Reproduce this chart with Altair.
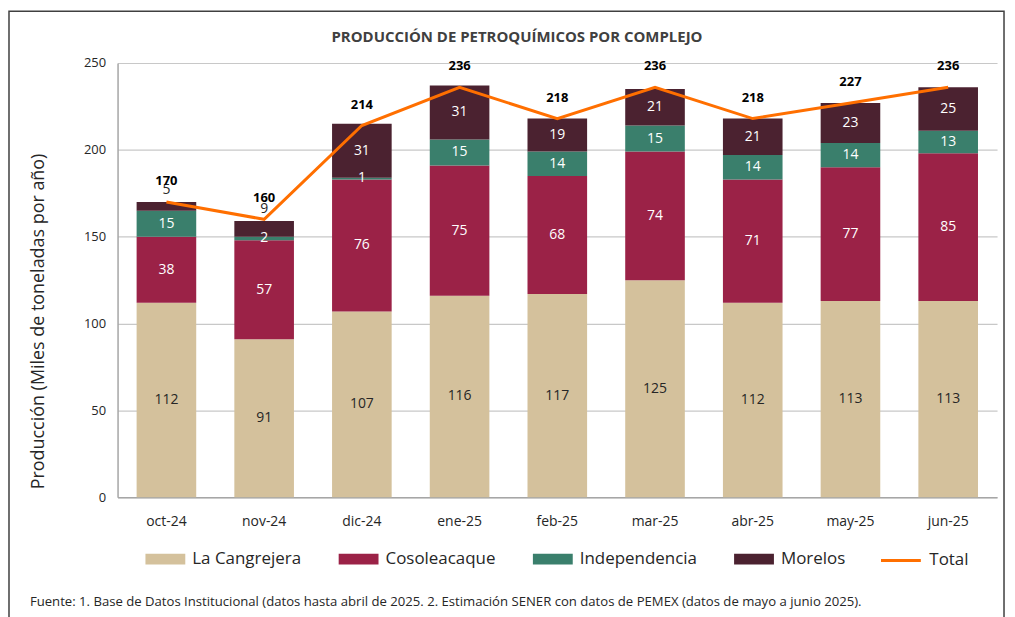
import altair as alt
import pandas as pd

meses = ["oct-24", "nov-24", "dic-24", "ene-25", "feb-25", "mar-25", "abr-25", "may-25", "jun-25"]
la_cangrejera = [112, 91, 107, 116, 117, 125, 112, 113, 113]
cosoleacaque = [38, 57, 76, 75, 68, 74, 71, 77, 85]
independencia = [15, 2, 1, 15, 14, 15, 14, 14, 13]
morelos = [5, 9, 31, 31, 19, 21, 21, 23, 25]
total = [170, 160, 214, 236, 218, 236, 218, 227, 236]

series_names = ["La Cangrejera", "Cosoleacaque", "Independencia", "Morelos"]
series_colors = ["#D4C19C", "#9B2247", "#3A7F6C", "#4B2230"]
label_colors = ["#262626", "white", "white", "white"]
total_color = "#FF6F00"
titulo = "PRODUCCIÓN DE PETROQUÍMICOS POR COMPLEJO"
eje_y = "Producción (Miles de toneladas por año)"
fuente = ("Fuente: 1. Base de Datos Institucional (datos hasta abril de 2025. 2. Estimación SENER "
          "con datos de PEMEX (datos de mayo a junio 2025).")
FONT = "Open Sans"

rows = []
for i, m in enumerate(meses):
    cum = 0
    for k, (name, vals) in enumerate(zip(series_names, [la_cangrejera, cosoleacaque, independencia, morelos])):
        v = vals[i]
        rows.append({"mes": m, "serie": name, "valor": v, "orden": k,
                     "ymid": cum + v / 2, "ytop": cum + v,
                     "lcolor": label_colors[k],
                     "small": (name == "Morelos" and v < 10)})
        cum += v
df = pd.DataFrame(rows)
df_tot = pd.DataFrame({"mes": meses, "total": total, "serie": ["Total"] * len(meses)})
df_one = pd.DataFrame({"titulo": [titulo], "fuente": [fuente]})

xenc = alt.X("mes:N", sort=meses,
             scale=alt.Scale(paddingInner=0.39, paddingOuter=0.195),
             axis=alt.Axis(title=None, labelAngle=0, ticks=False, labelPadding=17,
                           labelFontSize=14, labelColor="#262626", labelFont=FONT,
                           domainColor="#A6A6A6", domainWidth=1.5, grid=False))
yscale = alt.Scale(domain=[0, 250], nice=False)

bars = alt.Chart(df).mark_bar().encode(
    x=xenc,
    y=alt.Y("valor:Q", stack="zero", scale=yscale,
            axis=alt.Axis(title=eje_y, values=[0, 50, 100, 150, 200, 250], ticks=False,
                          labelPadding=12, labelFontSize=13, labelColor="#262626", labelFont=FONT,
                          titleFont=FONT, titleFontSize=18, titleFontWeight="normal",
                          titleColor="#262626", titleX=-70, titleY=259,
                          gridColor="#C8C8C8", gridWidth=1.2,
                          domainColor="#A6A6A6", domainWidth=1.5)),
    color=alt.Color("serie:N", sort=series_names,
                    scale=alt.Scale(domain=series_names, range=series_colors),
                    legend=alt.Legend(title=None, orient="none", direction="horizontal",
                                      legendX=28, legendY=478,
                                      symbolType="M-1,-0.27H1V0.27H-1Z", symbolSize=1600,
                                      symbolOpacity=1, symbolStrokeWidth=0,
                                      labelFontSize=17, labelFont=FONT, labelColor="#262626",
                                      labelOffset=7, columnPadding=37)),
    order=alt.Order("orden:Q"),
)

labels = alt.Chart(df).transform_filter("!datum.small").mark_text(
    fontSize=14, font=FONT, baseline="middle").encode(
    x=alt.X("mes:N", sort=meses),
    y=alt.Y("ymid:Q", scale=yscale),
    text=alt.Text("valor:Q"),
    color=alt.Color("lcolor:N", scale=None),
)

small_labels = alt.Chart(df).transform_filter("datum.small").mark_text(
    color="#262626", fontSize=14, font=FONT, baseline="middle", dy=-12).encode(
    x=alt.X("mes:N", sort=meses),
    y=alt.Y("ytop:Q", scale=yscale),
    text=alt.Text("valor:Q"),
)

line = alt.Chart(df_tot).mark_line(strokeWidth=3).encode(
    x=alt.X("mes:N", sort=meses),
    y=alt.Y("total:Q", scale=yscale),
    stroke=alt.Stroke("serie:N", scale=alt.Scale(domain=["Total"], range=[total_color]),
                      legend=alt.Legend(title=None, orient="none", legendX=765, legendY=478,
                                        symbolType="stroke", symbolSize=1600,
                                        symbolStrokeWidth=3,
                                        labelFontSize=17, labelFont=FONT, labelColor="#262626",
                                        labelOffset=7)),
)

tot_labels = alt.Chart(df_tot).mark_text(
    color="black", fontSize=13, fontWeight="bold", font=FONT, baseline="middle", dy=-21).encode(
    x=alt.X("mes:N", sort=meses),
    y=alt.Y("total:Q", scale=yscale),
    text=alt.Text("total:Q"),
)

frame = alt.Chart(df_one).mark_rect(filled=False, stroke="#404040", strokeWidth=1.5).encode(
    x=alt.value(-109), x2=alt.value(890), y=alt.value(-52), y2=alt.value(570))

title_txt = alt.Chart(df_one).mark_text(align="center", baseline="middle", fontSize=15,
                                        font=FONT, fontWeight="bold", color="#404040").encode(
    x=alt.value(401), y=alt.value(-26), text="titulo:N")

src = alt.Chart(df_one).mark_text(align="left", baseline="middle",
                                  fontSize=13.2, font=FONT, color="#262626").encode(
    x=alt.value(-88), y=alt.value(541), text="fuente:N")

chart = alt.layer(frame, bars, labels, small_labels, line, tot_labels, title_txt, src).properties(
    width=883, height=436,
    autosize=alt.AutoSizeParams(type="none"),
    padding={"left": 110, "top": 54, "right": 10, "bottom": 119},
).configure_view(strokeWidth=0)

chart.save("out.html", embed_options={"renderer": "svg", "actions": False})
